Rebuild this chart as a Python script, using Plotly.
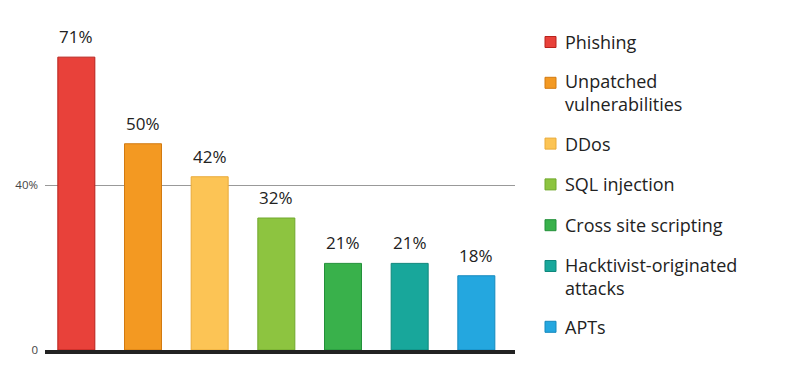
import plotly.graph_objects as go

categories = ["Phishing", "Unpatched<br>vulnerabilities", "DDos", "SQL injection",
              "Cross site scripting", "Hacktivist-originated<br>attacks", "APTs"]
values = [71, 50, 42, 32, 21, 21, 18]
colors = ["#E8413A", "#F39922", "#FCC455", "#8DC440", "#39B14B", "#18A79B", "#24A7DF"]
edges = ["#B8221C", "#D27A10", "#E9AA3A", "#71A82C", "#23903A", "#0F877C", "#1489BE"]
tick_vals = [0, 40]
tick_text = ["0", "40%"]

font = "'Open Sans', Lato, sans-serif"
OFF = 8  # page body margin
W, H = 800 - OFF, 385 - OFF
ML, MR, MT, MB = 45 - OFF, 285, 20 - OFF, 35
PW, PH = W - ML - MR, H - MT - MB

def px_x(p):
    return (p - OFF - ML) / PW

def px_y(p):
    return (H - MB - (p - OFF)) / PH

fig = go.Figure()
fig.add_trace(go.Bar(
    x=list(range(len(values))), y=values,
    marker=dict(color=colors, line=dict(color=edges, width=1)),
    width=0.555, showlegend=False, hoverinfo="skip",
))

annotations = []
for i, v in enumerate(values):
    annotations.append(dict(x=i, y=v, xref="x", yref="y", text=f"{v}%",
                            showarrow=False, yanchor="bottom", yshift=7,
                            font=dict(size=17, color="#222", family=font)))

# manual legend
shapes = []
y_line = 42
for i, name in enumerate(categories):
    n_lines = name.count("<br>") + 1
    shapes.append(dict(type="rect", xref="paper", yref="paper",
                       x0=px_x(545), x1=px_x(556),
                       y0=px_y(y_line + 5.5), y1=px_y(y_line - 5.5),
                       fillcolor=colors[i], line=dict(color=edges[i], width=1)))
    center = y_line + 10 * (n_lines - 1)
    annotations.append(dict(x=px_x(563), y=px_y(center), xref="paper", yref="paper",
                            text=name, showarrow=False, xanchor="left", yanchor="middle",
                            align="left",
                            font=dict(size=18, color="#222", family=font)))
    y_line += 20 * (n_lines - 1) + 40.8

fig.update_layout(
    width=W, height=H,
    margin=dict(l=ML, r=MR, t=MT, b=MB),
    paper_bgcolor="white", plot_bgcolor="white",
    showlegend=False,
    annotations=annotations, shapes=shapes,
    xaxis=dict(range=[-0.47, 6.58], showticklabels=False, showgrid=False,
               showline=True, linewidth=4, linecolor="#222", zeroline=False,
               ticks="", automargin=False),
    yaxis=dict(range=[0, 80], tickvals=tick_vals, ticktext=tick_text,
               showgrid=True, gridcolor="#999", gridwidth=1, zeroline=False,
               tickfont=dict(size=11.5, color="#444", family=font), ticks="",
               ticklabelstandoff=6, automargin=False),
)
fig.write_html("out.html")
